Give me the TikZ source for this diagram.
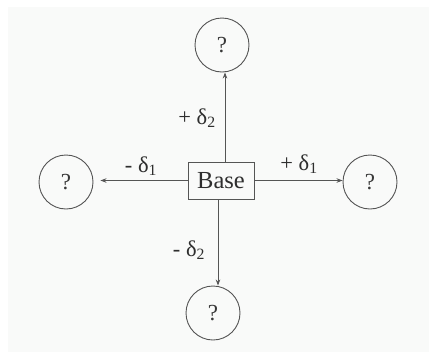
\documentclass[tikz,border=0pt]{standalone}
\usepackage{fontspec}
\setmainfont{Liberation Serif}
\usepackage{tikz}
\usetikzlibrary{arrows.meta,positioning}

\definecolor{inkgray}{HTML}{555555}
\definecolor{paper}{HTML}{F9FAF9}

\begin{document}
\begin{tikzpicture}[x=1pt, y=-1pt,
  %% -- node styles -----------------------------------------------------------
  basebox/.style={draw=inkgray, line width=0.9pt, fill=paper,
                  minimum width=66pt, minimum height=37pt, inner sep=0pt,
                  font=\fontsize{24.5}{28}\selectfont, text=black!82},
  state/.style={circle, draw=inkgray, line width=0.9pt, minimum size=54pt,
                inner sep=0pt, font=\fontsize{23}{26}\selectfont, text=black!78},
  lbl/.style={font=\fontsize{22.5}{26}\selectfont, text=black!82, inner sep=0pt},
  %% -- arrow style -----------------------------------------------------------
  arr/.style={-{Stealth[length=6pt, width=4.5pt]}, line width=0.8pt, inkgray}
]

%% -- frame ---------------------------------------------------------------------
\useasboundingbox (0,0) rectangle (429,354);
\fill[white] (0,0) rectangle (429,354);
\fill[paper] (8,7) rectangle (429,352);

%% -- centre box and the four neighbours ----------------------------------------
\node[basebox] (base)  at (221,180.5) {Base};
\node[state]   (up)    at (222,45)    {?};
\node[state]   (left)  at (66,182)    {?};
\node[state]   (right) at (370,182)   {?};
\node[state]   (down)  at (213,313)   {?};

%% -- step labels ---------------------------------------------------------------
\node[lbl] (plusdtwo)  at (197,118) {+ δ\textsubscript{2}};
\node[lbl] (minusdone) at (141,166) {- δ\textsubscript{1}};
\node[lbl] (plusdone)  at (299,164) {+ δ\textsubscript{1}};
\node[lbl] (minusdtwo) at (189,250) {- δ\textsubscript{2}};

%% -- arrows out of the base ----------------------------------------------------
\draw[arr] ([xshift=4pt]base.north) -- ([xshift=3pt]up.south);
\draw[arr] ([xshift=-3pt]base.south) -- ([xshift=5pt]down.north);
\draw[arr, shorten >=7pt] (base.west) -- (base.west -| left.east);
\draw[arr] (base.east) -- (base.east -| right.west);

\end{tikzpicture}
\end{document}
